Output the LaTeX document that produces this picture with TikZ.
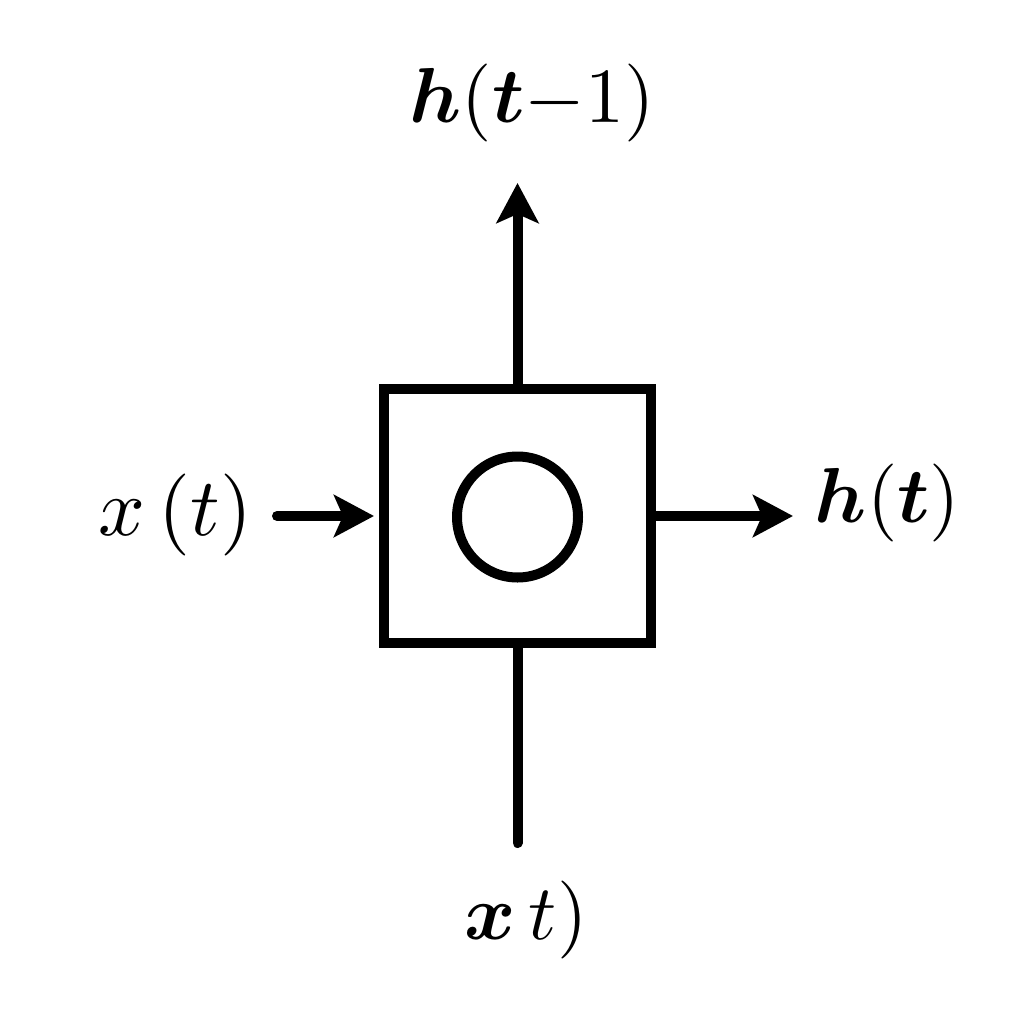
\documentclass[tikz,border=0pt]{standalone}
\usepackage{graphicx}
\usepackage{amsmath}
\usetikzlibrary{arrows.meta}
\newcommand{\bigtxt}[1]{\scalebox{7.8}{#1}}
\begin{document}
\begin{tikzpicture}[x=1pt,y=-1pt,
  lbl/.style={inner sep=0pt},
  wire/.style={line width=10pt},
  arr/.style={wire,-{Stealth[length=40pt,width=42pt,inset=9pt]}}]
\useasboundingbox (0,0) rectangle (1024,1024);
\node[draw,line width=10pt,minimum width=267pt,minimum height=254pt,inner sep=0pt] (box) at (517.5,516) {};
\node[draw,line width=10pt,circle,minimum size=121pt,inner sep=0pt] (core) at (517.5,517) {};
\coordinate (topTip) at (517.5,183);
\coordinate (rightTip) at (793,516);
\coordinate (bottomEnd) at (517.5,843);
\coordinate (leftStart) at (277,516);
\coordinate (leftTip) at ([xshift=-5pt]box.west);
\node[lbl] (hprev) at (532,103) {\bigtxt{$\boldsymbol{h}(\boldsymbol{t}{-}1)$}};
\node[lbl] (ht) at (887.5,503) {\bigtxt{$\boldsymbol{h}(\boldsymbol{t})$}};
\node[lbl] (xt) at (175,515) {\scalebox{8.2}{$x\,(t)$}};
\node[lbl] (xb) at (526,920) {\bigtxt{$\boldsymbol{x}\,t)$}};
\draw[arr] (box.north) -- (topTip);
\draw[arr] (box.east) -- (rightTip);
\draw[arr,line cap=round] (leftStart) -- (leftTip);
\draw[wire,line cap=round] (box.south) -- (bottomEnd);
\end{tikzpicture}
\end{document}
